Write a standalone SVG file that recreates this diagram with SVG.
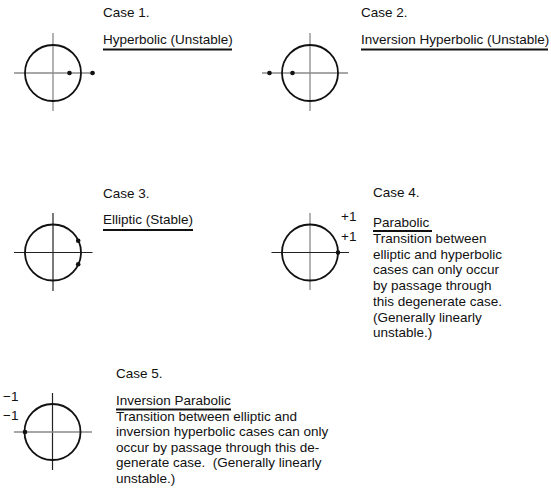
<svg xmlns="http://www.w3.org/2000/svg" width="551" height="488" viewBox="0 0 551 488">
<style>
  text { font-family: "Liberation Sans", Arial, sans-serif; font-size: 13.5px; fill: #111; }
  .circ { fill: none; stroke: #111; stroke-width: 1.8; }
  .axg { stroke: #8a8a8a; stroke-width: 1.3; }
  .axb { stroke: #222; stroke-width: 1.2; }
  .ul { stroke: #111; stroke-width: 1.8; }
  .dot { fill: #111; }
</style>
<rect width="551" height="488" fill="#fff"/>

<g id="case1">
  <line class="axg" x1="53" y1="33" x2="53" y2="111"/>
  <line class="axg" x1="14" y1="73" x2="95" y2="73"/>
  <circle class="circ" cx="53" cy="73" r="28"/>
  <circle class="dot" cx="69.5" cy="73" r="2.3"/>
  <circle class="dot" cx="92.5" cy="73" r="2.3"/>
  <text x="103" y="17">Case 1.</text>
  <text x="103" y="43.5">Hyperbolic (Unstable)</text>
  <line class="ul" x1="103" y1="49.5" x2="232" y2="49.5"/>
</g>

<g id="case2">
  <line class="axg" x1="310" y1="33" x2="310" y2="111"/>
  <line class="axg" x1="262" y1="73" x2="348" y2="73"/>
  <circle class="circ" cx="310" cy="73" r="28"/>
  <circle class="dot" cx="269.5" cy="73" r="2.3"/>
  <circle class="dot" cx="292.5" cy="73" r="2.3"/>
  <text x="361" y="17">Case 2.</text>
  <text x="361" y="43.5">Inversion Hyperbolic (Unstable)</text>
  <line class="ul" x1="361" y1="49.5" x2="548" y2="49.5"/>
</g>

<g id="case3">
  <line class="axb" x1="53" y1="213" x2="53" y2="291"/>
  <line class="axb" x1="14" y1="252.5" x2="92.5" y2="252.5"/>
  <circle class="circ" cx="53" cy="252.5" r="28"/>
  <circle class="dot" cx="78.2" cy="240.7" r="2.3"/>
  <circle class="dot" cx="78.2" cy="264.3" r="2.3"/>
  <text x="103" y="197.5">Case 3.</text>
  <text x="103" y="224">Elliptic (Stable)</text>
  <line class="ul" x1="103" y1="230" x2="193" y2="230"/>
</g>

<g id="case4">
  <line class="axg" x1="310" y1="213" x2="310" y2="290"/>
  <line class="axb" x1="271.5" y1="252.5" x2="349" y2="252.5"/>
  <circle class="circ" cx="310" cy="252.5" r="28"/>
  <circle class="dot" cx="338" cy="252.5" r="2.3"/>
  <text x="341" y="221">+1</text>
  <text x="341" y="240.5">+1</text>
  <text x="373" y="197">Case 4.</text>
  <text x="373" y="226.5">Parabolic</text>
  <line class="ul" x1="373" y1="231" x2="432" y2="231"/>
  <text x="373" y="243">Transition between</text>
  <text x="373" y="258.7">elliptic and hyperbolic</text>
  <text x="373" y="274.4">cases can only occur</text>
  <text x="373" y="290.1">by passage through</text>
  <text x="373" y="305.8">this degenerate case.</text>
  <text x="373" y="321.5">(Generally linearly</text>
  <text x="373" y="337.2">unstable.)</text>
</g>

<g id="case5">
  <line class="axb" x1="52.5" y1="393" x2="52.5" y2="470"/>
  <line class="axg" x1="14" y1="432" x2="92" y2="432"/>
  <circle class="circ" cx="52.5" cy="432" r="28"/>
  <circle class="dot" cx="25" cy="432" r="2.3"/>
  <text x="18.5" y="401" text-anchor="end">−1</text>
  <text x="18.5" y="420" text-anchor="end">−1</text>
  <text x="116" y="378">Case 5.</text>
  <text x="116" y="405">Inversion Parabolic</text>
  <line class="ul" x1="116" y1="409.5" x2="231" y2="409.5"/>
  <text x="116" y="420.5">Transition between elliptic and</text>
  <text x="116" y="436">inversion hyperbolic cases can only</text>
  <text x="116" y="451.5">occur by passage through this de-</text>
  <text x="116" y="467">generate case.<tspan dx="7.5">(Generally linearly</tspan></text>
  <text x="116" y="482.5">unstable.)</text>
</g>
</svg>
